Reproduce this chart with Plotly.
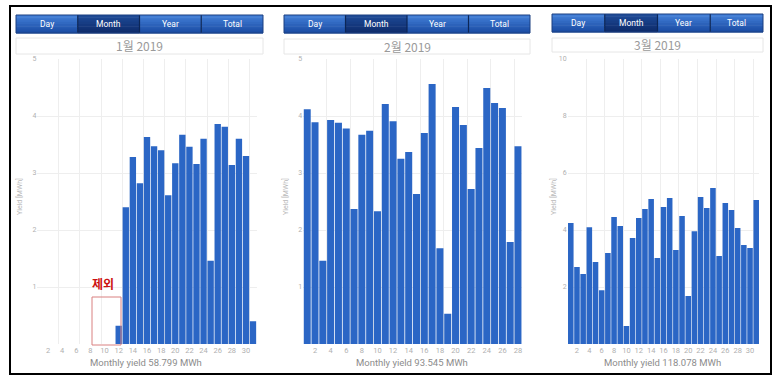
import plotly.graph_objects as go

# ---------------- data ----------------
jan_days = list(range(1, 32))
jan_yield = [0, 0, 0, 0, 0, 0, 0, 0, 0, 0, 0,
             0.32, 2.40, 3.28, 2.82, 3.63, 3.47, 3.40, 2.61, 3.17, 3.67,
             3.46, 3.16, 3.60, 1.46, 3.86, 3.81, 3.14, 3.60, 3.30, 0.40]
feb_days = list(range(1, 29))
feb_yield = [4.12, 3.89, 1.46, 3.93, 3.88, 3.78, 2.37, 3.67, 3.74, 2.33,
             4.21, 3.91, 3.25, 3.37, 2.63, 3.70, 4.56, 1.68, 0.53, 4.16,
             3.84, 2.72, 3.44, 4.49, 4.23, 4.14, 1.79, 3.47]
mar_days = list(range(1, 32))
mar_yield = [4.25, 2.70, 2.46, 4.10, 2.88, 1.89, 3.19, 4.46, 4.14, 0.63,
             3.72, 4.42, 4.74, 5.09, 3.02, 4.81, 5.12, 3.30, 4.49, 1.68,
             3.96, 5.16, 4.77, 5.47, 3.09, 4.95, 4.70, 4.07, 3.47, 3.37, 5.05]

titles = ["1월 2019", "2월 2019", "3월 2019"]
totals = ["Monthly yield 58.799 MWh", "Monthly yield 93.545 MWh", "Monthly yield 118.078 MWh"]
buttons = ["Day", "Month", "Year", "Total"]
y_ticks = [[1, 2, 3, 4, 5], [1, 2, 3, 4, 5], [2, 4, 6, 8, 10]]
y_max = [5, 5, 10]
x_ticks = [list(range(2, 31, 2)), list(range(2, 29, 2)), list(range(2, 31, 2))]
excluded_label = "제외"

# ---------------- layout helpers ----------------
W, H = 780, 386
def px(x):
    return x / W
def py(y):
    return 1 - y / H

FONT = "Roboto, Noto Sans CJK KR, sans-serif"
KFONT = "Noto Sans CJK KR, Roboto, sans-serif"
BAR = "#2b66c5"
GRID = "#eeeeee"

# panel geometry (pixels)
plot_x = [(37.4, 256.6), (303.3, 521.9), (567.7, 759.3)]
btn_x = [(16, 263), (284, 530), (552, 763)]
btn_y = [(15, 33), (15, 33), (14, 32)]
ttl_y = [(38, 54), (39, 54), (38, 52)]
ylab_x = [19, 285, 553]
plot_top, plot_bot = 59, 344

series = [(jan_days, jan_yield), (feb_days, feb_yield), (mar_days, mar_yield)]

fig = go.Figure()
shapes = []
annotations = []

def text_at(x, y, text, size, color, family=FONT, angle=0):
    annotations.append(dict(x=px(x), y=py(y), xref="paper", yref="paper",
                            xanchor="center", yanchor="middle",
                            text=text, showarrow=False, textangle=angle,
                            font=dict(size=size, color=color, family=family)))

for i, (days, vals) in enumerate(series):
    n = "" if i == 0 else str(i + 1)
    fig.add_trace(go.Bar(x=days, y=vals, marker=dict(color=BAR, line=dict(width=0)),
                         xaxis="x" + n, yaxis="y" + n, showlegend=False,
                         hoverinfo="x+y"))
    x0, x1 = plot_x[i]
    fig.layout["xaxis" + n] = dict(
        domain=[px(x0), px(x1)], range=[0.5, len(days) + 0.5], anchor="y" + n,
        tickvals=x_ticks[i], ticktext=[str(t) for t in x_ticks[i]],
        showgrid=False, zeroline=False, showline=False, ticks="",
        tickfont=dict(size=7.5, color="#b0b0b0", family=FONT),
        minor=dict(tick0=0.5, dtick=3, showgrid=True, gridcolor=GRID, gridwidth=1, ticks=""),
        fixedrange=True, automargin=False)
    fig.layout["yaxis" + n] = dict(
        domain=[py(plot_bot), py(plot_top)], range=[0, y_max[i]], anchor="x" + n,
        tickvals=y_ticks[i], showgrid=True, gridcolor=GRID, gridwidth=1,
        zeroline=False, showline=False, ticks="",
        tickfont=dict(size=7, color="#b0b0b0", family=FONT),
        fixedrange=True, automargin=False)

    # button bar
    bx0, bx1 = btn_x[i]
    by0, by1 = btn_y[i]
    bw = (bx1 - bx0) / 4
    nb = 8
    for b in range(4):
        sel = (b == 1)
        top_c = (30, 74, 150) if sel else (66, 126, 214)
        bot_c = (14, 44, 108) if sel else (28, 78, 165)
        for k in range(nb):
            t = k / (nb - 1)
            c = tuple(int(top_c[j] + (bot_c[j] - top_c[j]) * t) for j in range(3))
            yy0 = by0 + (by1 - by0) * k / nb
            yy1 = by0 + (by1 - by0) * (k + 1) / nb + 0.5
            shapes.append(dict(type="rect", xref="paper", yref="paper",
                               x0=px(bx0 + b * bw), x1=px(bx0 + (b + 1) * bw),
                               y0=py(yy1), y1=py(yy0),
                               fillcolor="rgb(%d,%d,%d)" % c, line=dict(width=0), layer="above"))
        text_at(bx0 + (b + 0.5) * bw, (by0 + by1) / 2, buttons[b], 8.5, "white")
    for b in range(1, 4):
        shapes.append(dict(type="line", xref="paper", yref="paper",
                           x0=px(bx0 + b * bw), x1=px(bx0 + b * bw), y0=py(by1), y1=py(by0),
                           line=dict(color="#0c2656", width=1.2), layer="above"))
    shapes.append(dict(type="rect", xref="paper", yref="paper",
                       x0=px(bx0), x1=px(bx1), y0=py(by1), y1=py(by0),
                       line=dict(color="#1a3f80", width=1), layer="above"))

    # title box
    ty0, ty1 = ttl_y[i]
    shapes.append(dict(type="rect", xref="paper", yref="paper",
                       x0=px(bx0), x1=px(bx1), y0=py(ty1), y1=py(ty0),
                       fillcolor="white", line=dict(color="#e6e6e6", width=1), layer="below"))
    text_at((bx0 + bx1) / 2, (ty0 + ty1) / 2, titles[i], 12, "#9a9a9a", KFONT)

    # y axis label
    text_at(ylab_x[i], 197, "Yield [MWh]", 7, "#b8b8b8", angle=-90)
    # monthly total
    text_at((x0 + x1) / 2 - 1, 362, totals[i], 9.5, "#8c8c8c")

# excluded-days box (January)
shapes.append(dict(type="rect", xref="paper", yref="paper",
                   x0=px(92), x1=px(121), y0=py(345), y1=py(297),
                   line=dict(color="#d98080", width=1), fillcolor="rgba(0,0,0,0)", layer="above"))
text_at(103, 283, "<b>" + excluded_label + "</b>", 12, "#cc1111", KFONT)

# outer frame
shapes.append(dict(type="rect", xref="paper", yref="paper",
                   x0=px(10), x1=px(771), y0=py(374), y1=py(6),
                   line=dict(color="black", width=2), layer="above"))

fig.update_layout(width=W, height=H, autosize=False,
                  margin=dict(l=0, r=0, t=0, b=0, pad=0, autoexpand=False),
                  paper_bgcolor="white", plot_bgcolor="white",
                  bargap=0.1, shapes=shapes, annotations=annotations,
                  font=dict(family=FONT))

fig.write_html("out.html", config={"displayModeBar": False})

# remove default page margin so the figure sits at the window's top-left corner
with open("out.html", encoding="utf-8") as f:
    html = f.read()
html = html.replace("<head>", "<head><style>html,body{margin:0;padding:0;overflow:hidden;}</style>", 1)
with open("out.html", "w", encoding="utf-8") as f:
    f.write(html)
